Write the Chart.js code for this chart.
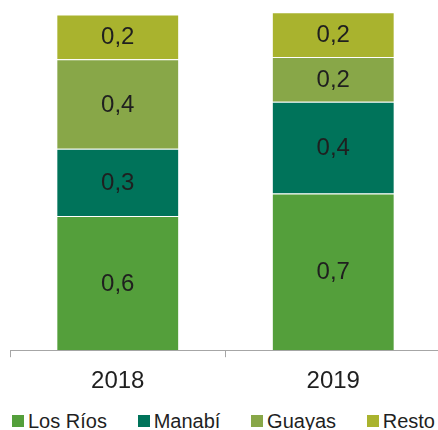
<!DOCTYPE html>
<html>
<head>
<meta charset="utf-8">
<script src="https://cdn.jsdelivr.net/npm/chart.js@4"></script>
<style>
  html, body { margin: 0; padding: 0; background: #fff; overflow: hidden; }
  #wrap { position: absolute; left: 0; top: 0; width: 442px; height: 410px; }
  #legend {
    position: absolute; left: 12px; width: 423px; top: 411px; height: 20px;
    display: flex; justify-content: space-between; align-items: center;
    font: 20px 'Liberation Sans', Arial, sans-serif; color: #1f1f1f;
  }
  #legend .item { display: flex; align-items: center; white-space: nowrap; }
  #legend .box { width: 12px; height: 12px; margin-right: 4px; }
</style>
</head>
<body>
<div id="wrap"><canvas id="chart"></canvas></div>
<div id="legend"></div>
<script>
const years = ['2018', '2019'];
const losRios = [0.60, 0.70];
const manabi = [0.30, 0.41];
const guayas = [0.40, 0.20];
const resto = [0.20, 0.20];

const FONT = "'Liberation Sans', Arial, sans-serif";

// draws the value in the middle of each segment, with a decimal comma
const segmentLabels = {
  id: 'segmentLabels',
  afterDatasetsDraw(chart) {
    const ctx = chart.ctx;
    ctx.save();
    ctx.font = `24px ${FONT}`;
    ctx.fillStyle = '#1f1f1f';
    ctx.textAlign = 'center';
    ctx.textBaseline = 'middle';
    chart.data.datasets.forEach((ds, i) => {
      const meta = chart.getDatasetMeta(i);
      meta.data.forEach((bar, j) => {
        const v = ds.data[j];
        const y = (bar.y + bar.base) / 2;
        ctx.fillText(v.toFixed(1).replace('.', ','), bar.x, y + 1);
      });
    });
    ctx.restore();
  },
};

function segment(label, data, color) {
  return {
    label,
    data,
    backgroundColor: color,
    borderColor: 'rgba(255, 255, 255, 0.55)',
    borderWidth: 1,
    borderSkipped: 'bottom',
    barPercentage: 0.57,
    categoryPercentage: 1,
  };
}

const chart = new Chart(document.getElementById('chart'), {
  type: 'bar',
  data: {
    labels: years,
    datasets: [
      segment('Los Ríos', losRios, '#549f3b'),
      segment('Manabí', manabi, '#00735a'),
      segment('Guayas', guayas, '#88a748'),
      segment('Resto', resto, '#a9b32e'),
    ],
  },
  options: {
    responsive: true,
    maintainAspectRatio: false,
    animation: false,
    layout: { padding: { left: 10, right: 1, top: 10, bottom: 4 } },
    plugins: {
      legend: { display: false },
      tooltip: { enabled: false },
    },
    scales: {
      x: {
        stacked: true,
        grid: {
          offset: true,
          drawOnChartArea: false,
          drawTicks: true,
          tickLength: 7,
          color: '#a6a6a6',
        },
        border: { display: true, color: '#a6a6a6', width: 1 },
        ticks: {
          color: '#1f1f1f',
          padding: 10,
          font: { size: 24, family: FONT },
        },
      },
      y: {
        stacked: true,
        display: false,
        min: 0,
        max: 1.52,
      },
    },
  },
  plugins: [segmentLabels],
});

// html legend built from the chart's datasets
const legend = document.getElementById('legend');
chart.data.datasets.forEach((ds) => {
  const item = document.createElement('div');
  item.className = 'item';
  item.innerHTML = `<span class="box" style="background:${ds.backgroundColor}"></span>${ds.label}`;
  legend.appendChild(item);
});
</script>
</body>
</html>
